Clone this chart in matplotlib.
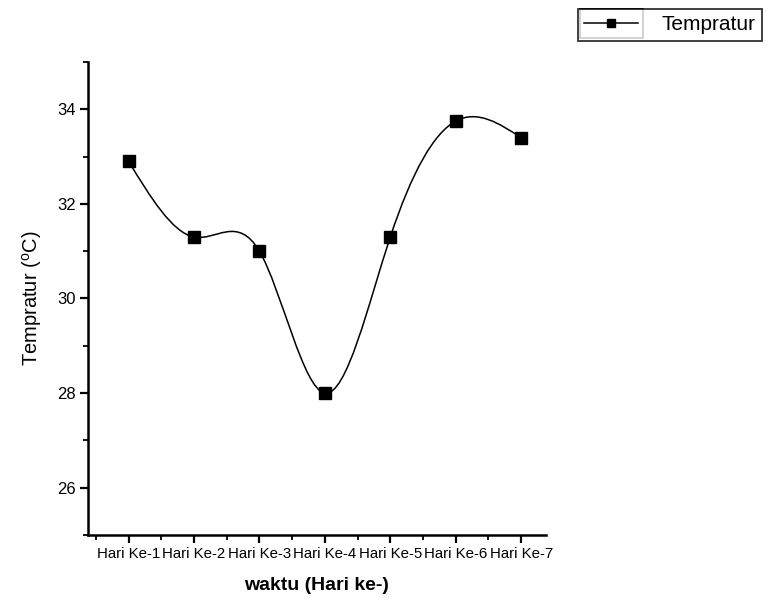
import numpy as np
import matplotlib
matplotlib.use('Agg')
import matplotlib.pyplot as plt
from matplotlib.path import Path
from matplotlib.patches import PathPatch, Rectangle
from matplotlib.ticker import MultipleLocator

plt.rcParams['font.family'] = ['Liberation Sans', 'DejaVu Sans']
plt.rcParams['mathtext.fontset'] = 'custom'
plt.rcParams['mathtext.rm'] = 'Liberation Sans'

# data
hari = ['Hari Ke-1', 'Hari Ke-2', 'Hari Ke-3', 'Hari Ke-4', 'Hari Ke-5', 'Hari Ke-6', 'Hari Ke-7']
temp = [32.9, 31.3, 31.0, 28.0, 31.3, 33.75, 33.4]

x = np.arange(1, len(temp) + 1, dtype=float)
y = np.array(temp)

# natural cubic spline through the points (Origin "Spline" connect)
n = len(x)
A = np.zeros((n, n))
b = np.zeros(n)
A[0, 0] = 1
A[-1, -1] = 1
for i in range(1, n - 1):
    A[i, i - 1], A[i, i], A[i, i + 1] = 1, 4, 1
    b[i] = 6 * (y[i + 1] - 2 * y[i] + y[i - 1])
M = np.linalg.solve(A, b)

verts = [(x[0], y[0])]
codes = [Path.MOVETO]
for i in range(n - 1):
    h = x[i + 1] - x[i]
    s = (y[i + 1] - y[i]) / h
    d0 = s - h * (2 * M[i] + M[i + 1]) / 6
    d1 = s + h * (M[i] + 2 * M[i + 1]) / 6
    verts += [(x[i] + h / 3, y[i] + d0 * h / 3),
              (x[i + 1] - h / 3, y[i + 1] - d1 * h / 3),
              (x[i + 1], y[i + 1])]
    codes += [Path.CURVE4] * 3

W, H = 769, 611
fig = plt.figure(figsize=(W / 100, H / 100), dpi=100)
ax = fig.add_axes([88 / W, 1 - 535 / H, (546 - 88) / W, (535 - 62) / H])

ax.add_patch(PathPatch(Path(verts, codes), facecolor='none', edgecolor='black', lw=1.1))
ax.plot(x, y, linestyle='none', marker='s', markersize=8, color='black')

ax.set_xlim(0.38, 7.38)
ax.set_ylim(25, 35)
ax.set_xticks(x)
ax.set_xticklabels(hari)
ax.xaxis.set_minor_locator(MultipleLocator(0.5))
ax.set_yticks([26, 28, 30, 32, 34])
ax.yaxis.set_minor_locator(MultipleLocator(1))

for side in ['top', 'right']:
    ax.spines[side].set_visible(False)
for side in ['left', 'bottom']:
    ax.spines[side].set_linewidth(1.8)

ax.tick_params(which='major', direction='out', length=6, width=1.6, labelsize=10.8, pad=3)
ax.tick_params(axis='y', labelsize=12)
ax.tick_params(which='minor', direction='out', length=3.5, width=1.3)

ax.set_xlabel('waktu (Hari ke-)', fontsize=14, fontweight='bold', labelpad=11)
ax.set_ylabel(r'Tempratur ($^{\rm o}$C)', fontsize=14.5, labelpad=9)

# legend in the top right corner, cut by the figure edge
hnd, = ax.plot([], [], color='black', lw=1.1, marker='s', markersize=6)
leg = fig.legend([hnd], ['Tempratur'], loc='upper left',
                 bbox_to_anchor=(578 / W, 1 - 9 / H), fontsize=15,
                 frameon=True, fancybox=False, edgecolor='black',
                 handlelength=2.6, borderpad=0.3, handletextpad=1.1,
                 borderaxespad=0)
leg.get_frame().set_linewidth(1.3)

# Origin style inner box around the line sample
fig.canvas.draw()
r = fig.canvas.get_renderer()
fb = leg.get_frame().get_window_extent(r)
hb = leg.legend_handles[0].get_window_extent(r)
fig.add_artist(Rectangle((hb.x0 / W, (fb.y0 + 3) / H), (hb.x1 - hb.x0) / W,
                         (fb.y1 - fb.y0 - 3) / H, transform=fig.transFigure,
                         fill=False, edgecolor='black', lw=1.2))

fig.savefig('out.png', dpi=100)
